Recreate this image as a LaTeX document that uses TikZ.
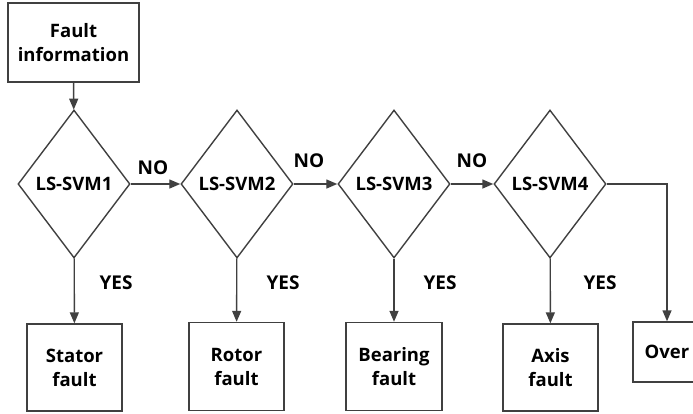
\documentclass[tikz,border=0pt]{standalone}
\usepackage{fontspec}
\setmainfont{Open Sans}
\usetikzlibrary{shapes.geometric,arrows.meta}

\definecolor{linegray}{RGB}{64,64,64}
\tikzset{every picture/.style={line width=1.4pt}}
\tikzset{
  stepbox/.style={draw=linegray, rectangle, inner sep=0pt, align=center, font=\bfseries\fontsize{18.5}{24}\selectfont},
  decision/.style={draw=linegray, diamond, aspect=0.757, inner sep=0pt, minimum width=112pt, minimum height=148pt, font=\bfseries\fontsize{18.5}{24}\selectfont},
  tag/.style={inner sep=0pt, font=\bfseries\fontsize{19}{22}\selectfont},
  arr/.style={draw=linegray, -{Triangle[length=11pt, width=9pt]}}
}

\begin{document}
\begin{tikzpicture}[x=1pt,y=1pt,yscale=-1,xscale=1]
\useasboundingbox (0,0) rectangle (693,413);

% Start
\node [stepbox, minimum width=131pt, minimum height=79pt] (info) at (73.5,42.5) {Fault\\information};

% Decisions
\node [decision] (svm1) at (74,184) {LS-SVM1};
\node [decision] (svm2) at (237,184) {LS-SVM2};
\node [decision] (svm3) at (394,184) {LS-SVM3};
\node [decision] (svm4) at (550,184) {LS-SVM4};

% Results
\node [stepbox, minimum width=95pt, minimum height=87pt] (stator) at (74.5,367.5) {Stator\\fault};
\node [stepbox, minimum width=95pt, minimum height=88pt] (rotor) at (236.5,366.5) {Rotor\\fault};
\node [stepbox, minimum width=96pt, minimum height=88pt] (bearing) at (394,366.5) {Bearing\\fault};
\node [stepbox, minimum width=95pt, minimum height=87pt] (axis) at (550.5,367.5) {Axis\\fault};
\node [stepbox, minimum width=68pt, minimum height=60pt] (over) at (667,352) {Over};

% Connectors
\draw [arr] (info) -- (svm1);
\draw [arr] (svm1) -- (svm2);
\draw [arr] (svm2) -- (svm3);
\draw [arr] (svm3) -- (svm4);
\draw [arr] (svm1) -- (stator);
\draw [arr] (svm2) -- (rotor);
\draw [arr] (svm3) -- (bearing);
\draw [arr] (svm4) -- (axis);
\draw [arr] (svm4.east) -| (over.north);

% Text Node
\node [tag] (no1) at (153,168) {NO};
\node [tag] (no2) at (309,161) {NO};
\node [tag] (no3) at (472,161) {NO};
\node [tag] (yes1) at (116,283) {YES};
\node [tag] (yes2) at (283,283) {YES};
\node [tag] (yes3) at (440,283) {YES};
\node [tag] (yes4) at (600,283) {YES};
\end{tikzpicture}
\end{document}
